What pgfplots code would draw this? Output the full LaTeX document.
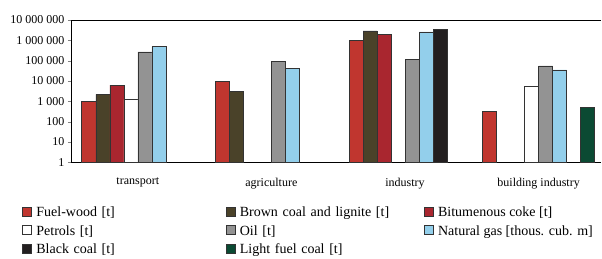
\documentclass[border=0pt]{standalone}
\usepackage{fontspec}
\setmainfont{Liberation Serif}
\usepackage{pgfplots}
\pgfplotsset{compat=1.18}
\definecolor{cwood}{HTML}{C0362F}
\definecolor{cbrown}{HTML}{4A4229}
\definecolor{cbit}{HTML}{A9262F}
\definecolor{cpet}{HTML}{FFFFFF}
\definecolor{coil}{HTML}{939393}
\definecolor{cgas}{HTML}{93CFEB}
\definecolor{cblack}{HTML}{231F20}
\definecolor{clight}{HTML}{0B4A33}
\begin{document}
\begin{tikzpicture}
\useasboundingbox (-71pt,-95.7pt) rectangle (531pt,162.3pt);
\begin{axis}[
  at={(0,0)}, anchor=south west,
  scale only axis, width=530pt, height=142.3pt,
  ymode=log, log origin=infty, ymin=1, ymax=1e7,
  xmin=-0.5, xmax=3.467,
  ybar=0pt, bar width=14pt,
  axis x line*=bottom, axis y line*=left,
  xtick={0,1,2,3}, xticklabels={transport,agriculture,industry,building industry},
  major x tick style={draw=none},
  extra x ticks={0.5,1.5,2.5}, extra x tick labels={},
  extra x tick style={major tick length=4pt, tick align=outside, tick style={draw=black}},
  ytick={1,10,100,1000,10000,100000,1000000,10000000},
  yticklabels={1,10,100,1\ 000,10\ 000,100\ 000,1\ 000\ 000,10\ 000\ 000},
  minor y tick num=0, yminorticks=false,
  tick align=outside, major tick length=3pt,
  tick label style={font=\fontsize{12}{14}\selectfont},
  xticklabel style={yshift=-9pt},
  axis line style={line width=0.7pt},
  every axis plot/.append style={draw=black!80, line width=0.6pt},
  legend columns=3,
  legend style={at={(0,0)}, anchor=north west, xshift=-49pt, yshift=-44pt, draw=none, fill=none,
    font=\fontsize{14}{16}\selectfont, row sep=5pt, inner sep=0pt,
    nodes={inner xsep=4.66pt, inner ysep=0pt, text height=10pt, text depth=3.3pt},
    /tikz/column 2/.style={text width=184.7pt},
    /tikz/column 4/.style={text width=179.4pt}},
  legend cell align=left,
  legend image code/.code={\draw[#1, line width=0.5pt] (0pt,-2.4pt) rectangle (9pt,6.6pt);},
]
\addplot[fill=cwood] coordinates {(0,1000) (1,9600) (2,1000000) (3,330)};
\addplot[fill=cbrown] coordinates {(0,2200) (1,3000) (2,2900000)};
\addplot[fill=cbit] coordinates {(0,6300) (2,2000000)};
\addplot[fill=cpet] coordinates {(0,1250) (3,5800)};
\addplot[fill=coil] coordinates {(0,270000) (1,93000) (2,117000) (3,55000)};
\addplot[fill=cgas] coordinates {(0,490000) (1,40000) (2,2600000) (3,35000)};
\addplot[fill=cblack] coordinates {(2,3300000)};
\addplot[fill=clight] coordinates {(3,490)};
\legend{Fuel-wood [t],Brown coal and lignite [t],Bitumenous coke [t],Petrols [t],Oil [t],Natural gas [thous. cub. m],Black coal [t],Light fuel coal [t]}
\draw[line width=0.7pt] (rel axis cs:0,1) -- (rel axis cs:1,1);
\end{axis}
\end{tikzpicture}
\end{document}
